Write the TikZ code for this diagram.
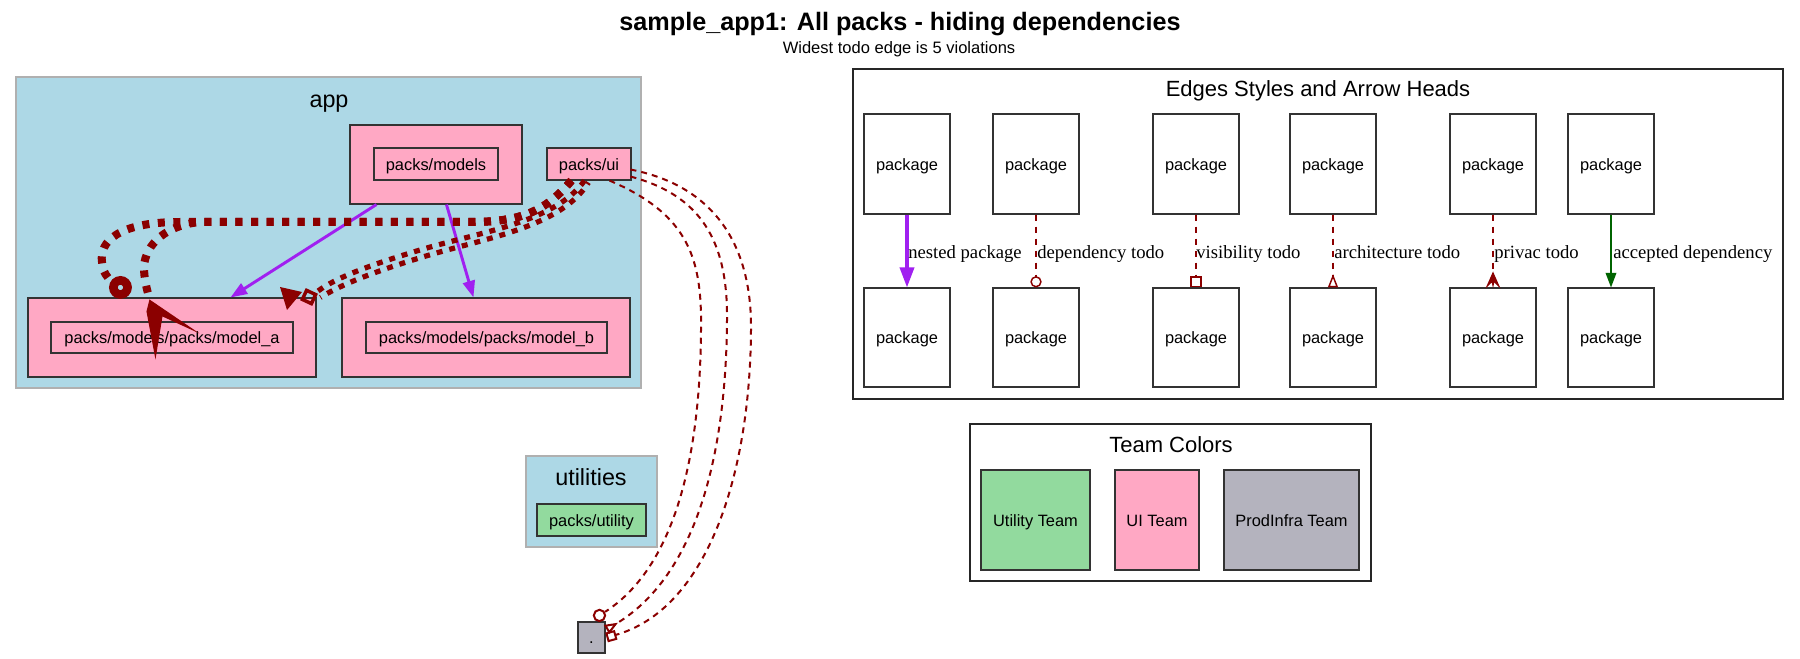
\documentclass[tikz,border=0pt]{standalone}
\usepackage{fontspec}
\setmainfont{Liberation Serif}
\newfontfamily\hv{Liberation Sans}
\usetikzlibrary{arrows.meta,calc}
\definecolor{clblue}{HTML}{ADD8E6}
\definecolor{clborder}{HTML}{B0B0B0}
\definecolor{uipink}{HTML}{FFA8C4}
\definecolor{utgreen}{HTML}{92DA9E}
\definecolor{pigray}{HTML}{B4B3BE}
\definecolor{todored}{HTML}{8B0000}
\definecolor{nestpurple}{HTML}{A020F0}
\definecolor{okgreen}{HTML}{006400}
\definecolor{edgeline}{HTML}{333333}
\begin{document}
\begin{tikzpicture}[x=0.75pt,y=-0.75pt,
  rb/.style n args={4}{at={({(#1+#3)/2},{(#2+#4)/2})}, minimum width={(#3-#1)*0.75pt}, minimum height={(#4-#2)*0.75pt}},
  cluster/.style={draw=clborder, line width=1.1pt, fill=clblue, inner sep=0pt},
  frame/.style={draw=black!85, line width=0.9pt, fill=white, inner sep=0pt},
  pkg/.style={draw=edgeline, line width=0.8pt, inner sep=0pt, text height=0.95em, text depth=0em,
    font=\hv\fontsize{12.3}{14}\selectfont},
  ttl/.style={inner sep=0pt, text height=0.72em, text depth=0.2em, font=\hv\fontsize{16.5}{18}\selectfont},
  bigttl/.style={inner sep=0pt, text height=0.72em, text depth=0.2em, font=\hv\fontsize{17.5}{19}\selectfont},
  elbl/.style={inner sep=0pt, anchor=west, text height=0.7em, text depth=0.22em, font=\fontsize{14}{16}\selectfont},
  nestL/.style={draw=nestpurple, line width=2.6pt},
  nestA/.style={draw=nestpurple, line width=2.2pt},
  todoL/.style={draw=todored, line width=1.1pt, dash pattern=on 4.5pt off 4.5pt},
  okL/.style={draw=okgreen, line width=1.2pt},
  thicktodo/.style={draw=todored, line width=6pt, dash pattern=on 5.25pt off 6.4pt},
  dbltodo/.style={draw=todored, line width=3.9pt, dash pattern=on 4.5pt off 5.25pt},
  thintodo/.style={draw=todored, line width=1.5pt, dash pattern=on 4.5pt off 3.75pt},
]
\useasboundingbox (0,0) rectangle (1800,659);
\fill[white] (0,0) rectangle (1800,659);

% title
\node[inner sep=0pt, font=\hv\bfseries\fontsize{18.9}{20}\selectfont] (title) at (900,24) {sample\_app1: All packs - hiding dependencies};
\node[inner sep=0pt, font=\hv\fontsize{12.4}{14}\selectfont] (subtitle) at (899,49) {Widest todo edge is 5 violations};

% app cluster
\node[cluster, rb={16}{77}{641}{388}] (app) {};
\node[bigttl] (applbl) at (329,104) {app};
\node[pkg, fill=uipink, rb={350}{125}{522}{204}] (mo) {};
\node[pkg, fill=uipink, rb={374}{148}{498}{180}] (mi) {packs/models};
\node[pkg, fill=uipink, rb={547}{148}{631}{180}] (ui) {packs/ui};
\node[pkg, fill=uipink, rb={28}{298}{316}{377}] (mao) {};
\node[pkg, fill=uipink, rb={51}{322}{293}{353}] (mai) {packs/models/packs/model\_a};
\node[pkg, fill=uipink, rb={342}{298}{630}{377}] (mbo) {};
\node[pkg, fill=uipink, rb={366}{322}{607}{353}] (mbi) {packs/models/packs/model\_b};

% utilities cluster
\node[cluster, rb={526}{456}{657}{547}] (util) {};
\node[bigttl] (utillbl) at (591,482) {utilities};
\node[pkg, fill=utgreen, rb={537}{504}{646}{536}] (utility) {packs/utility};
\node[pkg, fill=pigray, rb={578}{622}{605}{653}] (root) {.};

% legend of edges
\node[frame, rb={853}{69}{1783}{399}] (legend) {};
\node[ttl] (legendlbl) at (1318,93) {Edges Styles and Arrow Heads};
\foreach \n/\xa/\xb in {1/864/950, 2/993/1079, 3/1153/1239, 4/1290/1376, 5/1450/1536, 6/1568/1654}{
  \node[pkg, fill=white, rb={\xa}{114}{\xb}{214}] (l\n) {package};
  \node[pkg, fill=white, rb={\xa}{288}{\xb}{387}] (b\n) {package};
}
\draw[nestL, -{Triangle[length=15pt,width=10.5pt]}] (l1) -- (b1);
\draw[todoL, -{Circle[open,length=8.5pt,width=8.5pt]}] (l2) -- (b2);
\draw[todoL, -{Square[open,length=8.5pt,width=8.5pt]}] (l3) -- (b3);
\draw[todoL, -{Triangle[open,reversed,length=10pt,width=7.5pt]}] (l4) -- (b4);
\coordinate (crowL) at ([shift={(0,-16)}]b5.north);
\draw[todoL] (l5) -- (crowL);
\fill[todored] (crowL) -- ++(7.5,17) -- ++(-6.3,-6) -- ++(-1.2,6) -- ++(-1.2,-6) -- ++(-6.3,6) -- cycle;
\draw[okL, -{Triangle[length=11pt,width=8pt]}] (l6) -- (b6);
\node[elbl] (e1) at (908,255) {nested package};
\node[elbl] (e2) at (1037,255) {dependency todo};
\node[elbl] (e3) at (1196,255) {visibility todo};
\node[elbl] (e4) at (1334,255) {architecture todo};
\node[elbl] (e5) at (1494,255) {privac todo};
\node[elbl] (e6) at (1613,255) {accepted dependency};

% team colors
\node[frame, rb={970}{424}{1371}{581}] (teams) {};
\node[ttl] (teamslbl) at (1171,449) {Team Colors};
\node[pkg, fill=utgreen, rb={981}{470}{1090}{570}] (tu) {Utility Team};
\node[pkg, fill=uipink, rb={1115}{470}{1199}{570}] (tui) {UI Team};
\node[pkg, fill=pigray, rb={1224}{470}{1359}{570}] (tpi) {ProdInfra Team};

% app edges: nested
\draw[nestA, -{Triangle[length=12.5pt,width=9pt]}] ([shift={(27,0)}]mo.south west) -- ([shift={(203,0)}]mao.north west);
\draw[nestA, -{Triangle[length=12.5pt,width=9pt]}] ([shift={(97,0)}]mo.south west) -- ([shift={(132,0)}]mbo.north west);

% thick todo edges ui -> model_a
\coordinate (odotA) at ([shift={(93,-10)}]mao.north west);
\coordinate (endA) at ([shift={(84,-17)}]mao.north west);
\coordinate (crowB) at ([shift={(122,2)}]mao.north west);
\draw[thicktodo] ([shift={(25,0)}]ui.south west) .. controls (545,212) and (520,222) .. (470,222) -- (180,222) .. controls (118,222) and (99,242) .. (102,262) .. controls (103,272) and (107,278) .. (endA);
\draw[todored, line width=6.5pt] (odotA) circle[radius=5.3pt];
\draw[thicktodo] ([shift={(25,0)}]ui.south west) .. controls (545,212) and (520,222) .. (470,222) -- (200,222) .. controls (160,226) and (143,250) .. (144,270) .. controls (145,285) and (148,292) .. (crowB);
\fill[todored] (crowB) -- ++(50,34) -- ++(-37,-17) -- ++(-7,43) -- ++(-9,-48) -- cycle;
\coordinate (endC) at ([shift={(290,-6)}]mao.north west);
\coordinate (endCC) at ([shift={(293,0)}]mao.north west);
\draw[dbltodo] ([shift={(38,0)}]ui.south west) .. controls (556,222) and (480,232) .. (420,250) .. controls (370,265) and (335,278) .. (endC);
\draw[dbltodo, dash phase=3pt] ([shift={(42,2)}]ui.south west) .. controls (561,227) and (486,238) .. (426,256) .. controls (376,271) and (342,284) .. (endCC);
\node[draw=todored, line width=2.6pt, minimum size=7.5pt, inner sep=0pt, rotate=-25] (sqC) at (309,297) {};
\fill[todored] (280,287) -- (302,292) -- (287,310) -- cycle;

% thin todo edges ui -> root
\node[circle, draw=todored, line width=1.5pt, minimum size=8.5pt, inner sep=0pt] (odotD) at ([shift={(22,-6)}]root.north west) {};
\coordinate (d2end) at ([shift={(1,8)}]root.north east);
\coordinate (d3end) at ([shift={(1,16)}]root.north east);
\draw[thintodo] ([shift={(63,0)}]ui.south west) .. controls (690,215) and (702,260) .. (701,330) .. controls (700,470) and (670,570) .. (odotD);
\draw[thintodo, -{Triangle[open,reversed,length=10pt,width=7.5pt]}] ([shift={(84,-4)}]ui.south west) .. controls (700,195) and (728,240) .. (727,320) .. controls (726,470) and (690,580) .. (d2end);
\draw[thintodo, -{Square[open,length=7.5pt,width=7.5pt]}] ([shift={(84,-11)}]ui.south west) .. controls (710,185) and (752,240) .. (751,330) .. controls (750,480) and (705,610) .. (d3end);
\end{tikzpicture}
\end{document}
